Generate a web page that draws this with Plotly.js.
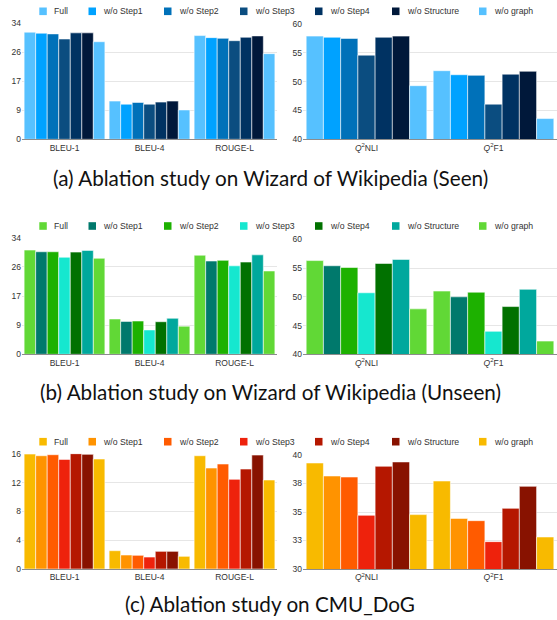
<!DOCTYPE html>
<html><head><meta charset="utf-8">
<script src="https://cdn.plot.ly/plotly-3.0.1.min.js"></script>
<style>html,body{margin:0;padding:0;background:#fff}</style>
</head><body><div id="chart" style="width:557px;height:620px"></div>
<script>
// ---------- data ----------
const seriesNames = ['Full','w/o Step1','w/o Step2','w/o Step3','w/o Step4','w/o Structure','w/o graph'];
const lexCategories = ['BLEU-1','BLEU-4','ROUGE-L'];
const q2Categories = ['<i>Q</i><sup>2</sup>NLI','<i>Q</i><sup>2</sup>F1'];

// (a) Wizard of Wikipedia (Seen)
const seenBLEU1  = [31.4, 31.1, 30.9, 29.4, 31.2, 31.2, 28.6];
const seenBLEU4  = [11.2, 10.3, 10.8, 10.3, 10.9, 11.2, 8.6];
const seenROUGEL = [30.4, 29.8, 29.6, 28.9, 29.9, 30.3, 25.1];
const seenQ2NLI  = [57.9, 57.7, 57.5, 54.6, 57.7, 57.9, 49.3];
const seenQ2F1   = [51.9, 51.2, 51.1, 46.1, 51.3, 51.8, 43.6];
// (b) Wizard of Wikipedia (Unseen)
const unseenBLEU1  = [30.4, 29.9, 29.9, 28.3, 29.8, 30.3, 28.0];
const unseenBLEU4  = [10.3, 9.6, 9.7, 7.1, 9.5, 10.5, 8.2];
const unseenROUGEL = [28.9, 27.2, 27.4, 25.8, 26.9, 29.0, 24.3];
const unseenQ2NLI  = [56.3, 55.4, 55.1, 50.7, 55.8, 56.5, 47.9];
const unseenQ2F1   = [51.0, 50.0, 50.8, 44.0, 48.3, 51.3, 42.3];
// (c) CMU_DoG
const cmuBLEU1  = [15.95, 15.72, 15.86, 15.21, 16.0, 15.91, 15.26];
const cmuBLEU4  = [2.54, 1.94, 1.90, 1.66, 2.45, 2.45, 1.76];
const cmuROUGEL = [15.72, 14.01, 14.57, 12.44, 13.87, 15.81, 12.35];
const cmuQ2NLI  = [39.30, 38.16, 38.07, 34.71, 39.01, 39.39, 34.77];
const cmuQ2F1   = [37.72, 34.44, 34.24, 32.40, 35.32, 37.25, 32.81];

// tick labels
const wowLexTickVals = [0, 8.5, 17, 25.5, 34];
const wowLexTickText = ['0','9','17','26','34'];
const wowQ2TickVals  = [40, 45, 50, 55, 60];
const wowQ2TickText  = ['40','45','50','55','60'];
const cmuLexTickVals = [0, 4, 8, 12, 16];
const cmuLexTickText = ['0','4','8','12','16'];
const cmuQ2TickVals  = [30, 32.5, 35, 37.5, 40];
const cmuQ2TickText  = ['30','33','35','38','40'];

const captions = [
  '(a) Ablation study on Wizard of Wikipedia (Seen)',
  '(b) Ablation study on Wizard of Wikipedia (Unseen)',
  '(c) Ablation study on CMU_DoG'
];

// ---------- styles ----------
const palettes = [
  ['#56c1ff','#00a2ff','#0071b9','#0b4d80','#003262','#00183a','#56c1ff'],
  ['#61d836','#00796c','#1db100','#16e7cf','#017100','#00a89d','#61d836'],
  ['#f8ba00','#ff9300','#ff5b00','#ee220c','#b51700','#881200','#f8ba00']
];
const W = 557, H = 620;
const fx = p => p / W;
const fy = p => 1 - p / H;

const rows = [
  {lex:[seenBLEU1,seenBLEU4,seenROUGEL], q2:[seenQ2NLI,seenQ2F1],
   lexTicks:[wowLexTickVals,wowLexTickText,[0,34]], q2Ticks:[wowQ2TickVals,wowQ2TickText,[40,60]],
   lexY:[23.3,139.3], q2Y:[24,139.3], legendY:11.3, capY:178},
  {lex:[unseenBLEU1,unseenBLEU4,unseenROUGEL], q2:[unseenQ2NLI,unseenQ2F1],
   lexTicks:[wowLexTickVals,wowLexTickText,[0,34]], q2Ticks:[wowQ2TickVals,wowQ2TickText,[40,60]],
   lexY:[237.7,354.3], q2Y:[239.3,354.3], legendY:226, capY:392},
  {lex:[cmuBLEU1,cmuBLEU4,cmuROUGEL], q2:[cmuQ2NLI,cmuQ2F1],
   lexTicks:[cmuLexTickVals,cmuLexTickText,[0,16]], q2Ticks:[cmuQ2TickVals,cmuQ2TickText,[30,40]],
   lexY:[453.7,569], q2Y:[455,569], legendY:441.7, capY:604}
];
const lexX = [22, 277], q2X = [303, 557];
const legendSquareX = [39.3, 88.5, 164, 240, 315, 392, 479];

const tickFont = {family:'Liberation Sans, Arial, sans-serif', size:8.5, color:'#333'};
const traces = [];
const layout = {
  width: W, height: H, margin:{l:0,r:0,t:0,b:0},
  paper_bgcolor:'#fff', plot_bgcolor:'rgba(0,0,0,0)',
  barmode:'group', bargap:0.05, bargroupgap:0,
  showlegend:false, shapes:[], annotations:[]
};

let axisIdx = 0;
rows.forEach((row, r) => {
  const pal = palettes[r];
  [['lex', lexCategories, lexX, row.lexY, row.lexTicks],
   ['q2', q2Categories, q2X, row.q2Y, row.q2Ticks]].forEach(([key, cats, xd, yd, tk]) => {
    axisIdx++;
    const sfx = axisIdx === 1 ? '' : String(axisIdx);
    const metricArrays = row[key];
    seriesNames.forEach((name, s) => {
      traces.push({
        type:'bar', name:name, x:cats, y:metricArrays.map(a => a[s]),
        xaxis:'x'+sfx, yaxis:'y'+sfx,
        marker:{color:pal[s], line:{color:'rgba(255,255,255,0.55)', width:1}},
        hoverinfo:'skip'
      });
    });
    layout['xaxis'+sfx] = {
      domain:[fx(xd[0]), fx(xd[1])], anchor:'y'+sfx,
      type:'category', showline:true, linecolor:'#8c8c8c', linewidth:1,
      ticks:'', showgrid:false, zeroline:false, tickfont:tickFont, fixedrange:true
    };
    layout['yaxis'+sfx] = {
      domain:[fy(yd[1]), fy(yd[0])], anchor:'x'+sfx,
      range:tk[2], tickvals:tk[0], ticktext:tk[1],
      showgrid:true, gridcolor:'#e6e6e6', gridwidth:1, zeroline:false,
      showline:false, ticks:'', tickfont:tickFont, fixedrange:true
    };
  });
  // legend
  seriesNames.forEach((name, s) => {
    const x0 = legendSquareX[s];
    layout.shapes.push({type:'rect', xref:'paper', yref:'paper',
      x0:fx(x0), x1:fx(x0+7.5), y0:fy(row.legendY+3.8), y1:fy(row.legendY-3.8),
      fillcolor:pal[s], line:{width:0}});
    layout.annotations.push({xref:'paper', yref:'paper', x:fx(x0+12.5), y:fy(row.legendY),
      xanchor:'left', yanchor:'middle', showarrow:false, text:name,
      font:{family:'Liberation Sans, Arial, sans-serif', size:8.7, color:'#333'}});
  });
  // caption
  layout.annotations.push({xref:'paper', yref:'paper', x:fx(270), y:fy(row.capY),
    xanchor:'center', yanchor:'middle', showarrow:false, text:captions[r],
    font:{family:'Lato, sans-serif', size:20.7, color:'#111'}});
});

Plotly.newPlot('chart', traces, layout, {displayModeBar:false, staticPlot:true});
</script></body></html>
